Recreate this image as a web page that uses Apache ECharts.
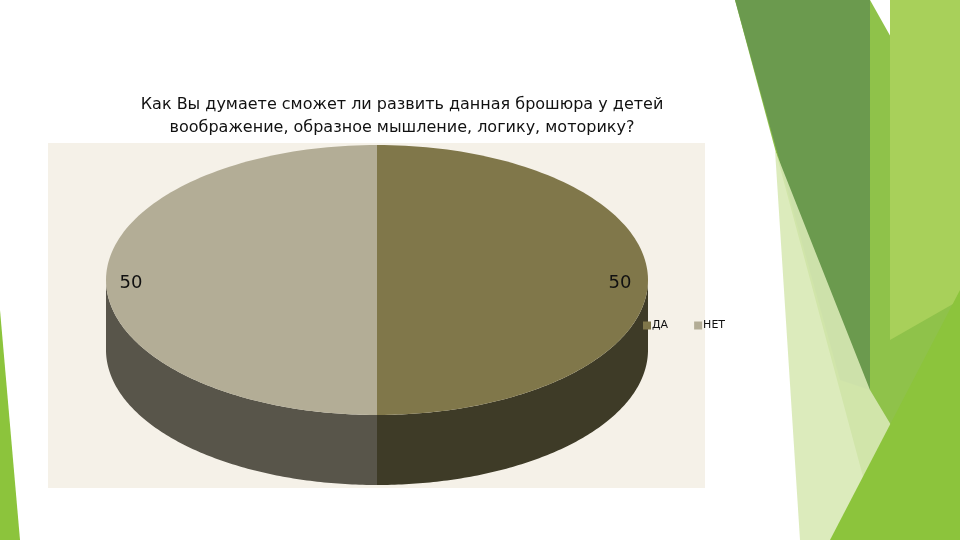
<!DOCTYPE html>
<html><head><meta charset="utf-8">
<script src="https://cdn.jsdelivr.net/npm/echarts@6/dist/echarts.min.js"></script>
<style>html,body{margin:0;padding:0;background:#fff}#c{width:960px;height:540px}</style>
</head><body><div id="c"></div>
<script>
const categories = ['ДА', 'НЕТ'];
const values = [50, 50];
const topColors = ['#80774a', '#b3ad96'];
const sideColors = ['#3e3b27', '#58554a'];

const cx = 377, cy = 280, rx = 271, ry = 135, depth = 70;
const total = values.reduce((a, b) => a + b, 0);
const starts = [];
let acc = 0;
values.forEach(v => { starts.push(acc); acc += v; });

function pt(a, dy) { return [cx + rx * Math.cos(a), cy + ry * Math.sin(a) + (dy || 0)]; }

function makeRender(i) {
  return function (params, api) {
    const a0 = -Math.PI / 2 + 2 * Math.PI * starts[i] / total;
    const a1 = -Math.PI / 2 + 2 * Math.PI * (starts[i] + api.value(0)) / total;
    const n = 120;
    const children = [];
    [[a0, a1], [a0 + 2 * Math.PI, a1 + 2 * Math.PI], [a0 - 2 * Math.PI, a1 - 2 * Math.PI]].forEach(([b0, b1]) => {
      const t0 = Math.max(b0, 0), t1 = Math.min(b1, Math.PI);
      if (t1 > t0) {
        const top = [], bot = [];
        for (let k = 0; k <= n; k++) { const a = t0 + (t1 - t0) * k / n; top.push(pt(a)); bot.push(pt(a, depth)); }
        children.push({ type: 'polygon', shape: { points: top.concat(bot.reverse()) }, style: { fill: sideColors[i] } });
      }
    });
    const pts = [[cx, cy]];
    for (let k = 0; k <= n; k++) pts.push(pt(a0 + (a1 - a0) * k / n));
    children.push({ type: 'polygon', shape: { points: pts }, style: { fill: topColors[i] } });
    const lx = i === 0 ? 620 : 131;
    children.push({ type: 'text', style: { text: String(values[i]), x: lx, y: 283, align: 'center', verticalAlign: 'middle', font: '18px "DejaVu Sans"', fill: '#111' } });
    return { type: 'group', children };
  };
}

const chart = echarts.init(document.getElementById('c'));
chart.setOption({
  backgroundColor: '#fff',
  title: {
    text: 'Как Вы думаете сможет ли развить данная брошюра у детей\nвоображение, образное мышление, логику, моторику?',
    left: 397, top: 88, textAlign: 'center',
    textStyle: { fontFamily: 'DejaVu Sans', fontSize: 16, fontWeight: 'normal', color: '#111', lineHeight: 23 }
  },
  legend: {
    data: categories, left: 638, top: 315, itemWidth: 8, itemHeight: 8, itemGap: 26, icon: 'rect',
    textStyle: { fontFamily: 'DejaVu Sans', fontSize: 11, color: '#111', padding: [0, 0, 0, -4] }
  },
  graphic: [
    { type: 'polygon', z: -10, shape: { points: [[735, 0], [870, 0], [960, 160], [960, 540], [880, 540]] }, style: { fill: '#8fc24a' } },
    { type: 'polygon', z: -9, shape: { points: [[735, 0], [870, 0], [870, 390], [840, 380]] }, style: { fill: '#6b9a4e' } },
    { type: 'polygon', z: -9, shape: { points: [[775, 150], [870, 390], [960, 540], [800, 540]] }, style: { fill: '#d8e9b5', opacity: 0.9 } },
    { type: 'polygon', z: -9, shape: { points: [[890, 0], [960, 0], [960, 300], [890, 340]] }, style: { fill: '#a8d05a' } },
    { type: 'polygon', z: -8, shape: { points: [[830, 540], [960, 290], [960, 540]] }, style: { fill: '#8cc43c' } },
    { type: 'polygon', z: -8, shape: { points: [[0, 310], [20, 540], [0, 540]] }, style: { fill: '#8cc43c' } },
    { type: 'rect', z: -5, shape: { x: 48, y: 143, width: 657, height: 345 }, style: { fill: '#f5f1e8' } }
  ],
  series: categories.map((c, i) => ({
    type: 'custom',
    name: c,
    coordinateSystem: 'none',
    itemStyle: { color: topColors[i] },
    data: [values[i]],
    renderItem: makeRender(i)
  }))
});
</script></body></html>
